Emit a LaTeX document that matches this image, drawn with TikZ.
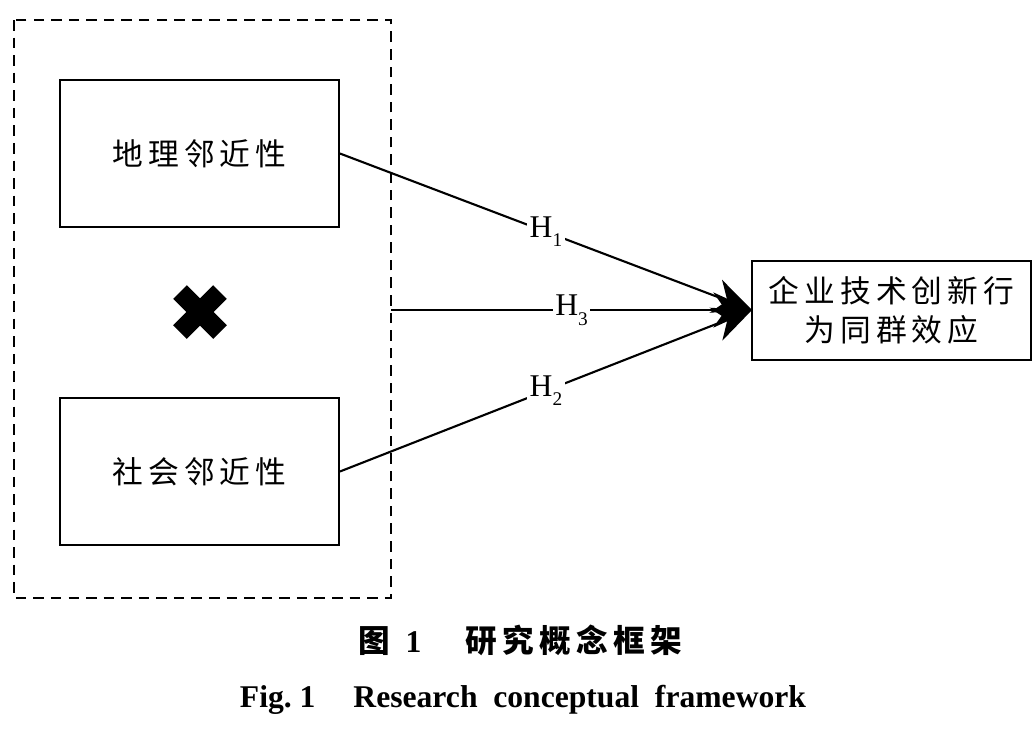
\documentclass[tikz,border=0pt]{standalone}
\usepackage{fontspec}
\setmainfont{Liberation Serif}
\newfontfamily\cjk{Noto Sans CJK SC}
\usetikzlibrary{arrows.meta}
\newcommand{\hsub}[1]{\raisebox{-0.3em}{\fontsize{11}{12}\selectfont #1}}
\begin{document}
\begin{tikzpicture}[x=0.02cm,y=-0.02cm,
  box/.style={draw,line width=1.1pt,minimum width=5.58cm,minimum height=2.94cm,inner sep=0pt},
  rbox/.style={draw,line width=1.1pt,minimum width=5.58cm,minimum height=1.98cm,inner sep=0pt,align=center},
  cjktext/.style={font=\cjk\fontsize{17.5}{24}\selectfont},
  conn/.style={line width=1.2pt,-{Stealth[length=22pt,width=20pt,inset=7pt]}},
  hlabel/.style={fill=white,inner sep=1.5pt,font=\fontsize{18}{20}\selectfont}]
\useasboundingbox (0,0) rectangle (1036,735);
\draw[dashed,line width=1.1pt,dash pattern=on 6pt off 4pt] (14,20) rectangle (391,598);
\node[box,cjktext] (geo) at (199.5,153.5) {地\,理\,邻\,近\,性};
\node[box,cjktext] (soc) at (199.5,471.5) {社\,会\,邻\,近\,性};
\node[rbox,cjktext] (out) at (891.5,310.5) {企\,业\,技\,术\,创\,新\,行\\[-2pt]为\,同\,群\,效\,应};
\coordinate (mid) at (391,310);
\coordinate (tip) at (752,310);
\draw[line width=11pt] (180,292) -- (220,332);
\draw[line width=11pt] (220,292) -- (180,332);
\draw[conn] (geo.east) -- node[hlabel,pos=0.5]{H\hsub{1}} (tip);
\draw[conn] (mid) -- node[hlabel,pos=0.5]{H\hsub{3}} (tip);
\draw[conn] (soc.east) -- node[hlabel,pos=0.5]{H\hsub{2}} (tip);
\node[font=\fontsize{18}{20}\selectfont\bfseries] (cap1) at (520,640) {{\cjk\bfseries 图}\hspace{0.5em}1\hspace{1.4em}{\cjk\bfseries 研\,究\,概\,念\,框\,架}};
\node[font=\fontsize{18}{20}\selectfont\bfseries] (cap2) at (523,700) {Fig.~1\hspace{1.2em}Research\ \ conceptual\ \ framework};
\end{tikzpicture}
\end{document}
